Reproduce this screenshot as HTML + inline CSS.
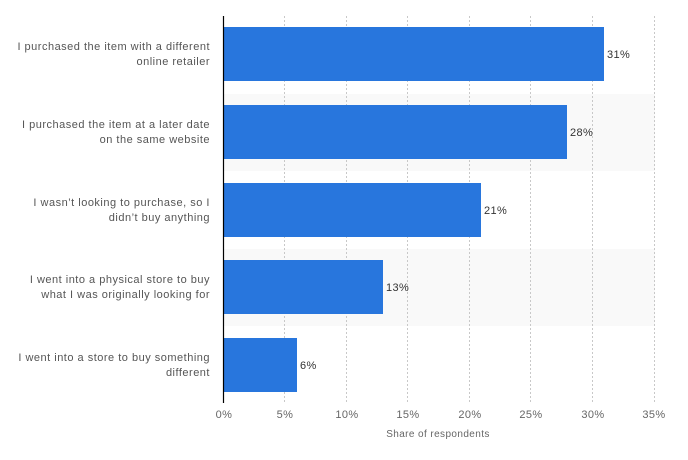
<!DOCTYPE html>
<html><head><meta charset="utf-8"><style>
body{margin:0;background:#fff;width:688px;height:455px;overflow:hidden;font-family:"Liberation Sans",sans-serif;}
</style></head><body>
<svg width="688" height="455" xmlns="http://www.w3.org/2000/svg" font-family="Liberation Sans, sans-serif">
<rect x="223" y="94" width="432" height="77" fill="#f9f9f9"/>
<rect x="223" y="249" width="432" height="77" fill="#f9f9f9"/>
<g stroke="#c8c8c8" stroke-width="1" stroke-dasharray="2,2">
<line x1="284.5" y1="16" x2="284.5" y2="403"/>
<line x1="346.5" y1="16" x2="346.5" y2="403"/>
<line x1="407.5" y1="16" x2="407.5" y2="403"/>
<line x1="469.5" y1="16" x2="469.5" y2="403"/>
<line x1="530.5" y1="16" x2="530.5" y2="403"/>
<line x1="592.5" y1="16" x2="592.5" y2="403"/>
<line x1="654.5" y1="16" x2="654.5" y2="403"/>
</g>
<g fill="#2876dd">
<rect x="224" y="27" width="380" height="54"/>
<rect x="224" y="105" width="343" height="54"/>
<rect x="224" y="183" width="257" height="54"/>
<rect x="224" y="260" width="159" height="54"/>
<rect x="224" y="338" width="73" height="54"/>
</g>
<line x1="223.5" y1="16" x2="223.5" y2="403" stroke="#000" stroke-width="1.2"/>
<g font-size="11" fill="#333" letter-spacing="0.4">
<text x="607" y="58">31%</text>
<text x="570" y="136">28%</text>
<text x="484" y="214">21%</text>
<text x="386" y="291">13%</text>
<text x="300" y="369">6%</text>
</g>
<g font-size="11" fill="#555" text-anchor="end" letter-spacing="0.5">
<text x="210" y="50">I purchased the item with a different</text>
<text x="210" y="65">online retailer</text>
<text x="210" y="128">I purchased the item at a later date</text>
<text x="210" y="143">on the same website</text>
<text x="210" y="206">I wasn’t looking to purchase, so I</text>
<text x="210" y="221">didn’t buy anything</text>
<text x="210" y="283">I went into a physical store to buy</text>
<text x="210" y="298">what I was originally looking for</text>
<text x="210" y="361">I went into a store to buy something</text>
<text x="210" y="376">different</text>
</g>
<g font-size="11" fill="#666" text-anchor="middle" letter-spacing="0.4">
<text x="224" y="418">0%</text>
<text x="285" y="418">5%</text>
<text x="347" y="418">10%</text>
<text x="408" y="418">15%</text>
<text x="470" y="418">20%</text>
<text x="531" y="418">25%</text>
<text x="593" y="418">30%</text>
<text x="654" y="418">35%</text>
</g>
<text x="438" y="437" font-size="10" fill="#666" text-anchor="middle" letter-spacing="0.4">Share of respondents</text>
</svg>
</body></html>
